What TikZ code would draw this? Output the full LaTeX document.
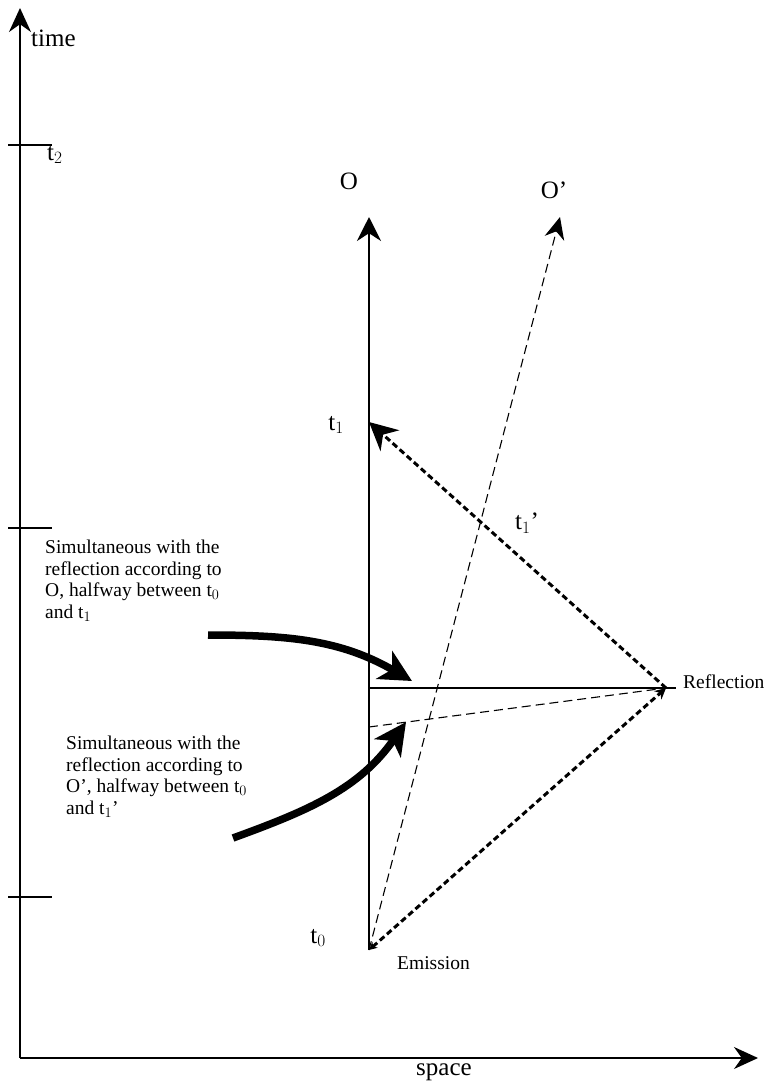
\documentclass[tikz,border=0pt]{standalone}
\usepackage{fontspec}
\setmainfont{Liberation Serif}
\usetikzlibrary{arrows.meta,positioning}

\begin{document}
\begin{tikzpicture}[
      x=1pt, y=-1pt,
      axis/.style={line width=1.6pt, -{Stealth[length=24pt,width=22pt]}},
      worldline/.style={line width=1.6pt},
      ghostline/.style={line width=1.1pt, dash pattern=on 9pt off 5pt},
      photon/.style={line width=3pt, dash pattern=on 6pt off 3.5pt},
      pointer/.style={line width=7.5pt, -{Stealth[length=32pt,width=32pt,inset=9pt]}},
      lbl/.style={font=\fontsize{25}{27}\selectfont, inner sep=1pt},
      note/.style={font=\fontsize{19.5}{21.5}\selectfont, align=left, inner sep=0pt}
    ]
    \useasboundingbox (0,0) rectangle (773,1088);

    % axes
    \coordinate (origin) at (20,1058);
    \coordinate (timetop) at (20,8);
    \coordinate (spaceend) at (758,1058);
    \draw[axis] (origin) -- (timetop);
    \draw[axis] (origin) -- (spaceend);
    \foreach \ty in {145,528,897}
      \draw[line width=1.6pt] (8,\ty) -- (52,\ty);
    \node[lbl, anchor=west] (time) at (30,38) {time};
    \node[lbl, anchor=west] (ttwo) at (46,155) {t$_2$};
    \node[lbl] (space) at (444,1072) {space};

    % world lines
    \coordinate (emit) at (369,950);
    \coordinate (refl) at (666,688);
    \coordinate (tone) at (369,422);
    \coordinate (otop) at (369,217);
    \coordinate (optop) at (560,217);
    \coordinate (simo) at (369,688);
    \coordinate (simop) at (369,727);
    \draw[worldline, -{Stealth[length=24pt,width=24pt]}] (emit) -- (otop);
    \draw[ghostline, -{Stealth[length=22pt,width=20pt]}] (emit) -- (optop);
    \node[lbl] (olab) at (349,181) {O};
    \node[lbl] (oplab) at (554,190) {O'};

    % light signal
    \draw[photon, {Stealth[length=8pt,width=8pt]}-{Stealth[length=11pt,width=11pt]}]
      (emit) -- (refl);
    \draw[photon, -{Stealth[length=28pt,width=28pt]}] (refl) -- (tone);
    \node[lbl] (tonelab) at (336,425) {t$_1$};
    \node[lbl] (tzerolab) at (318,938) {t$_0$};
    \node[lbl] (tonep) at (527,523) {t$_1$'};
    \node[note, anchor=west] (refllab) at (683,682) {Reflection};
    \node[note, anchor=north west] (emitlab) at (397,956) {Emission};

    % simultaneity lines
    \draw[line width=1.6pt] (simo) -- ([xshift=10pt]refl);
    \draw[ghostline] (simop) -- (refl);

    % notes
    \node[note, anchor=north west] (noteo) at (45,540)
      {Simultaneous with the\\reflection according to\\O, halfway between t$_0$\\and t$_1$};
    \node[note, anchor=north west] (noteop) at (66,736)
      {Simultaneous with the\\reflection according to\\O', halfway between t$_0$\\and t$_1$'};
    \coordinate (pointo) at (208,635);
    \coordinate (pointop) at (233,838);
    \draw[pointer] (pointo) to[out=0, in=150] (412,681);
    \draw[pointer] (pointop) to[out=20, in=235] (406,722);
  \end{tikzpicture}
\end{document}
